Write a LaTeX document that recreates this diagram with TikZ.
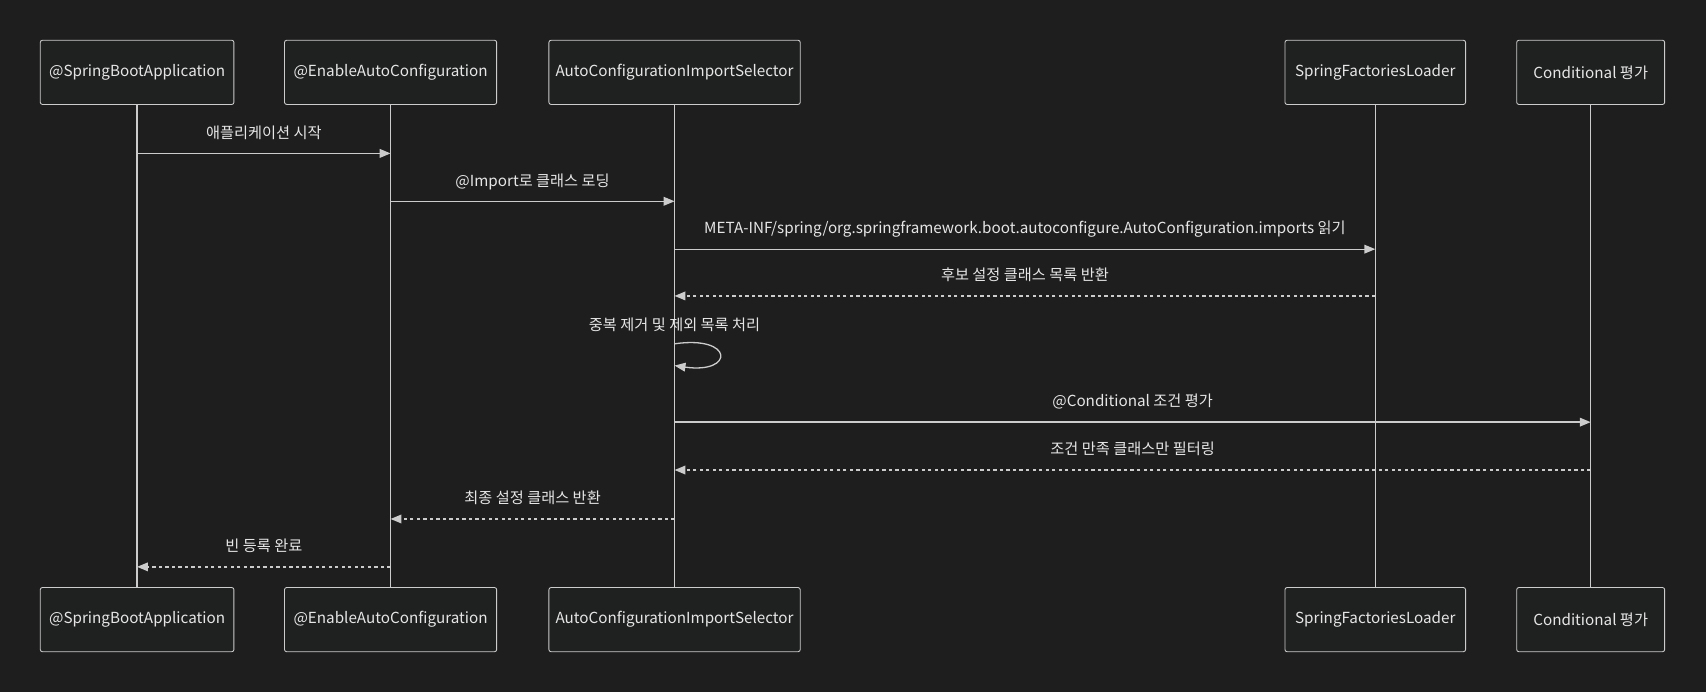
\documentclass[tikz,border=0pt]{standalone}
\usepackage{fontspec}
\setmainfont{Noto Sans CJK KR}
\usetikzlibrary{arrows.meta, positioning}
\definecolor{bgc}{HTML}{1E1E1E}
\definecolor{boxc}{HTML}{1F2020}
\definecolor{linec}{HTML}{CCCCCC}
\definecolor{txtc}{HTML}{E6E6E6}
\begin{document}
\begin{tikzpicture}[x=0.5pt, y=-0.5pt,
  actor/.style={draw=linec, fill=boxc, rounded corners=1pt, minimum height=29.5pt, text=txtc, font=\fontsize{7}{8}\selectfont, inner sep=0pt},
  life/.style={linec, line width=0.6pt},
  msg/.style={linec, line width=0.6pt, -{Triangle[length=5pt,width=4pt]}},
  reply/.style={msg, dash pattern=on 1.5pt off 1.5pt},
  lbl/.style={text=txtc, font=\fontsize{7}{8}\selectfont, anchor=base, yshift=7pt}]

  \fill[bgc] (0,0) rectangle (1568,636);

  % participants (top and bottom)
  \foreach \name/\x/\w/\txt in {sb/126/178/@SpringBootApplication,
    ea/359/195/@EnableAutoConfiguration,
    is/620/231/AutoConfigurationImportSelector,
    fl/1264/166/SpringFactoriesLoader,
    ce/1462/136/Conditional 평가} {
    \node[actor, minimum width=\w*0.5pt] (\name-top) at (\x,66.5) {\txt};
    \node[actor, minimum width=\w*0.5pt] (\name-bot) at (\x,569.5) {\txt};
    \draw[life] (\name-top) -- (\name-bot);
  }

  % messages
  \draw[msg] (sb-top |- 0,141) -- node[lbl] {애플리케이션 시작} (ea-top |- 0,141);
  \draw[msg] (ea-top |- 0,185) -- node[lbl] {@Import로 클래스 로딩} (is-top |- 0,185);
  \draw[msg] (is-top |- 0,229) -- node[lbl] {META-INF/spring/org.springframework.boot.autoconfigure.AutoConfiguration.imports 읽기} (fl-top |- 0,229);
  \draw[reply] (fl-top |- 0,272) -- node[lbl] {후보 설정 클래스 목록 반환} (is-top |- 0,272);
  \draw[msg] (is-top |- 0,316) .. controls (675,308) and (675,344) .. (is-top |- 0,336);
  \node[lbl] (dedup) at (620,318) {중복 제거 및 제외 목록 처리};
  \draw[msg] (is-top |- 0,388) -- node[lbl] {@Conditional 조건 평가} (ce-top |- 0,388);
  \draw[reply] (ce-top |- 0,432) -- node[lbl] {조건 만족 클래스만 필터링} (is-top |- 0,432);
  \draw[reply] (is-top |- 0,477) -- node[lbl] {최종 설정 클래스 반환} (ea-top |- 0,477);
  \draw[reply] (ea-top |- 0,521) -- node[lbl] {빈 등록 완료} (sb-top |- 0,521);
\end{tikzpicture}
\end{document}
